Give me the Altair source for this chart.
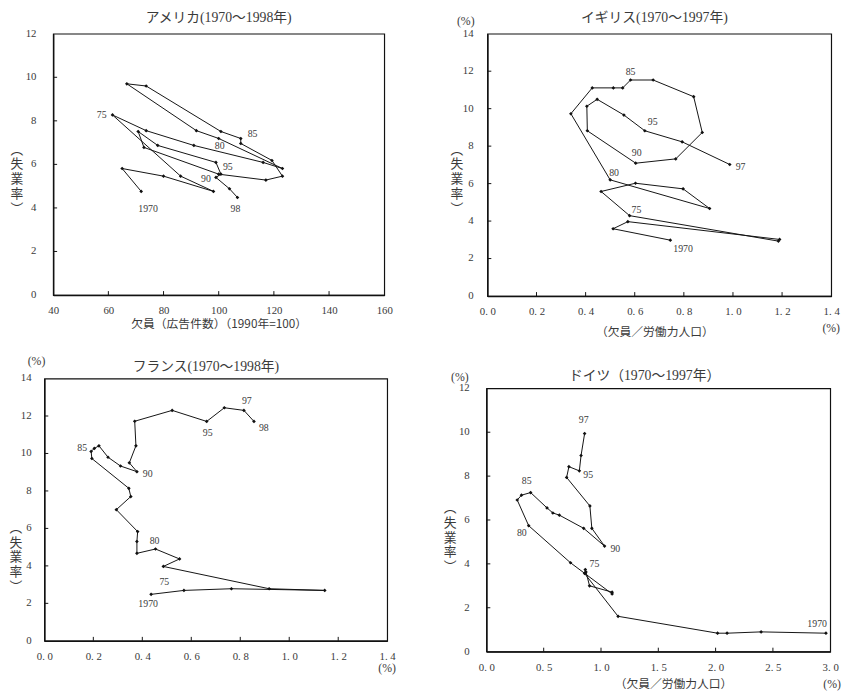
import altair as alt
import pandas as pd

# ---------------- data ----------------
us_years = list(range(1970, 1999))
us_vac = [71.9, 65.0, 80.0, 98.1, 86.2, 61.5, 73.7, 91.0, 116.1, 123.1,
          100.0, 91.9, 66.7, 73.7, 100.8, 108.0, 108.0, 119.3, 123.1, 117.1,
          100.0, 72.9, 70.8, 77.9, 99.0, 100.8, 99.0, 103.9, 106.8]
us_unemp = [4.76, 5.81, 5.46, 4.76, 5.46, 8.27, 7.55, 6.87, 6.09, 5.81,
            7.19, 7.55, 9.70, 9.60, 7.51, 7.19, 6.96, 6.18, 5.46, 5.28,
            5.55, 6.78, 7.51, 6.87, 6.09, 5.55, 5.40, 4.88, 4.48]

uk_years = list(range(1970, 1998))
uk_vac = [0.745, 0.512, 0.572, 1.19, 1.185, 0.579, 0.463, 0.603, 0.797, 0.905,
          0.500, 0.340, 0.427, 0.513, 0.551, 0.583, 0.675, 0.840, 0.875, 0.767,
          0.604, 0.407, 0.405, 0.447, 0.556, 0.641, 0.793, 0.987]
uk_unemp = [2.98, 3.59, 3.97, 3.02, 2.93, 4.29, 5.58, 6.02, 5.72, 4.67,
            6.20, 9.73, 11.11, 11.11, 11.11, 11.53, 11.53, 10.64, 8.73, 7.32,
            7.09, 8.82, 10.13, 10.50, 9.66, 8.82, 8.23, 7.02]

fr_years = list(range(1970, 1999))
fr_vac = [0.436, 0.570, 0.764, 1.145, 0.918, 0.486, 0.552, 0.454, 0.378, 0.378,
          0.381, 0.294, 0.353, 0.345, 0.194, 0.191, 0.204, 0.223, 0.260, 0.311,
          0.378, 0.347, 0.374, 0.369, 0.522, 0.663, 0.735, 0.815, 0.856]
fr_unemp = [2.48, 2.69, 2.78, 2.69, 2.78, 3.97, 4.37, 4.90, 4.67, 5.30,
            5.83, 7.00, 7.70, 8.14, 9.73, 10.11, 10.27, 10.41, 9.80, 9.33,
            9.03, 9.50, 10.41, 11.72, 12.30, 11.71, 12.44, 12.30, 11.71]

de_years = list(range(1970, 1998))
de_vac = [2.963, 2.397, 2.100, 2.017, 1.149, 0.857, 0.863, 0.869, 0.900, 1.097,
          1.097, 0.734, 0.369, 0.269, 0.306, 0.386, 0.529, 0.580, 0.637, 0.849,
          1.031, 0.920, 0.903, 0.700, 0.720, 0.811, 0.826, 0.857]
de_unemp = [0.84, 0.90, 0.84, 0.84, 1.61, 3.56, 3.74, 3.63, 3.00, 2.71,
            2.63, 4.05, 5.74, 6.91, 7.13, 7.25, 6.55, 6.32, 6.22, 5.62,
            4.81, 5.62, 6.64, 7.94, 8.43, 8.24, 8.94, 9.94]

# year labels: (anchor year, text, dx, dy)
us_labels = [(1970, "1970", 7, 18), (1975, "75", -11, 0), (1980, "80", 1, 8),
             (1985, "85", 12, -5), (1990, "90", -13, 5), (1995, "95", 7, -7),
             (1998, "98", -2, 12)]
uk_labels = [(1970, "1970", 13, 9), (1975, "75", 7, -6), (1980, "80", 4, -7),
             (1985, "85", 0, -8), (1990, "90", 1, -10), (1995, "95", 8, -9),
             (1997, "97", 11, 3)]
fr_labels = [(1970, "1970", -3, 10), (1975, "75", 1, 16), (1977, "80", -1, -8),
             (1985, "85", -9, -3), (1990, "90", 11, 2), (1995, "95", 1, 12),
             (1997, "97", 3, -9), (1998, "98", 10, 7)]
de_labels = [(1970, "1970", -9, -9), (1975, "75", 10, -10), (1982, "80", -7, 8),
             (1985, "85", -4, -12), (1990, "90", 11, 3), (1995, "95", 9, 4),
             (1997, "97", -1, -14)]

us_xticks = [40, 60, 80, 100, 120, 140, 160]
pct_xticks = [0.0, 0.2, 0.4, 0.6, 0.8, 1.0, 1.2, 1.4]
de_xticks = [0.0, 0.5, 1.0, 1.5, 2.0, 2.5, 3.0]
y12 = [0, 2, 4, 6, 8, 10, 12]
y14 = [0, 2, 4, 6, 8, 10, 12, 14]

# ---------------- style ----------------
SERIF = "Liberation Serif"
MIXED = "Liberation Serif, Noto Sans CJK JP"
CJK = "Noto Sans CJK JP"
TXT = "#3a3a3a"
INK = "#111111"
YTITLE = "︵\n失\n業\n率\n︶"


def panel(years, xs, ys, xdom, ydom, xticks, yticks, w, h, title, title_dx,
          title_y, pct_fmt, xtitle, xtitle_x, xtitle_y, ytitle_x, ytitle_y,
          ylab_pad, labels, xpct=None, ypct=None):
    df = pd.DataFrame({"year": years, "x": xs, "y": ys})
    xscale = alt.Scale(domain=xdom, nice=False, zero=False)
    yscale = alt.Scale(domain=ydom, nice=False, zero=False)
    xaxis_kw = dict(values=xticks, ticks=False, tickSize=0, labelPadding=10,
                    labelFont=SERIF, labelFontSize=11, labelColor=TXT,
                    labelFlush=False, labelOverlap=False, domainColor=INK,
                    domainWidth=1.5, grid=False, title=xtitle, titleFont=CJK,
                    titleFontSize=12, titleFontWeight="normal", titleColor=TXT,
                    titleY=xtitle_y, titleBaseline="middle")
    if xtitle_x is not None:
        xaxis_kw["titleX"] = xtitle_x
    if pct_fmt:
        xaxis_kw["labelExpr"] = "replace(format(datum.value, '.1f'), '.', '. ')"
    else:
        xaxis_kw["format"] = "d"
    xaxis = alt.Axis(**xaxis_kw)
    yaxis = alt.Axis(values=yticks, ticks=False, tickSize=0, labels=False,
                     domainColor=INK, domainWidth=1.5, grid=False, title="")

    base = alt.Chart(df)
    line = base.mark_line(color=INK, strokeWidth=1).encode(
        x=alt.X("x:Q", scale=xscale, axis=xaxis),
        y=alt.Y("y:Q", scale=yscale, axis=yaxis),
        order="year:Q",
    )
    pts = base.mark_point(shape="diamond", filled=True, size=14, color=INK,
                          opacity=1).encode(x="x:Q", y="y:Q")

    layers = [line, pts]

    # inward ticks
    xt = pd.DataFrame({"x": xticks[1:-1]})
    layers.append(alt.Chart(xt).mark_rule(color=INK, strokeWidth=1).encode(
        x="x:Q", y=alt.value(h), y2=alt.value(h - 4)))
    yt = pd.DataFrame({"y": yticks[1:-1]})
    layers.append(alt.Chart(yt).mark_rule(color=INK, strokeWidth=1).encode(
        y="y:Q", x=alt.value(0), x2=alt.value(4)))

    # y tick labels
    yl = pd.DataFrame({"y": yticks})
    layers.append(alt.Chart(yl).mark_text(
        font=SERIF, fontSize=11, color=TXT, align="right", baseline="middle",
        dx=-ylab_pad).encode(y="y:Q", x=alt.value(0), text=alt.Text("y:Q", format="d")))

    # vertical y-axis title
    layers.append(alt.Chart(pd.DataFrame({"t": [YTITLE]})).mark_text(
        font=CJK, fontSize=13, color=TXT, lineBreak="\n", lineHeight=15,
        align="center", baseline="middle").encode(
        x=alt.value(ytitle_x), y=alt.value(ytitle_y), text="t:N"))

    # panel title
    layers.append(alt.Chart(pd.DataFrame({"t": [title]})).mark_text(
        font=MIXED, fontSize=14, color=TXT, align="center", baseline="middle").encode(
        x=alt.value(w / 2 + title_dx), y=alt.value(title_y), text="t:N"))

    for yr, txt, dx, dy in labels:
        i = years.index(yr)
        ld = pd.DataFrame({"x": [xs[i]], "y": [ys[i]], "t": [txt]})
        layers.append(alt.Chart(ld).mark_text(
            font=SERIF, fontSize=10, color=TXT, dx=dx, dy=dy,
            align="center", baseline="middle").encode(
            x="x:Q", y="y:Q", text="t:N"))

    if xpct is not None:
        pd_x = pd.DataFrame({"x": [xdom[1]], "t": ["(%)"]})
        layers.append(alt.Chart(pd_x).mark_text(
            font=SERIF, fontSize=12, color=TXT, dx=xpct[0],
            align="center", baseline="middle").encode(
            x="x:Q", y=alt.value(h + xpct[1]), text="t:N"))
    if ypct is not None:
        pd_y = pd.DataFrame({"y": [ydom[1]], "t": ["(%)"]})
        layers.append(alt.Chart(pd_y).mark_text(
            font=SERIF, fontSize=12, color=TXT, dy=ypct[1],
            align="center", baseline="middle").encode(
            y="y:Q", x=alt.value(ypct[0]), text="t:N"))

    return alt.layer(*layers).properties(width=w, height=h)


us = panel(us_years, us_vac, us_unemp, [40, 160], [0, 12], us_xticks, y12,
           337, 266, "アメリカ(1970～1998年)", 0, -16, False,
           "欠員（広告件数）（1990年=100）", None, 29, -37, 118, 17, us_labels)
uk = panel(uk_years, uk_vac, uk_unemp, [0, 1.4], [0, 14], pct_xticks, y14,
           350, 267, "イギリス(1970～1997年)", -5, -16, True,
           "（欠員／労働力人口）", 170, 36, -31, 118, 14, uk_labels,
           xpct=(0, 33), ypct=(-22, -13))
fr = panel(fr_years, fr_vac, fr_unemp, [0, 1.4], [0, 14], pct_xticks, y14,
           349, 267, "フランス(1970～1998年)", -10, -12, True,
           "", None, 30, -29, 152, 13, fr_labels,
           xpct=(0, 28), ypct=(-8, -18))
de = panel(de_years, de_vac, de_unemp, [0, 3], [0, 12], de_xticks, y12,
           350, 268, "ドイツ（1970～1997年）", -14, -13, True,
           "（欠員／労働力人口）", 190, 33, -37, 122, 17, de_labels,
           xpct=(2, 33), ypct=(-27, -11))


def spacer(w, h):
    return alt.Chart(pd.DataFrame({"a": [0]})).mark_point(opacity=0).encode(
        x=alt.value(0), y=alt.value(0)).properties(
        width=w, height=h, view=alt.ViewBackground(stroke="transparent"))


inner_top = alt.hconcat(us, uk, spacing=105, bounds="flush")
top = alt.hconcat(spacer(9, 1), inner_top, spacing=0, bounds="flush")
de_col = alt.vconcat(spacer(1, 10), de, spacing=0, bounds="flush")
bottom = alt.hconcat(fr, de_col, spacing=101, bounds="flush")

chart = alt.vconcat(top, bottom, spacing=16).properties(
    padding={"top": -4, "left": 0, "right": 0, "bottom": 0}, background="white"
).configure_view(stroke=INK, strokeWidth=1.2)

chart.save("out.html", embed_options={"renderer": "svg", "actions": False})
